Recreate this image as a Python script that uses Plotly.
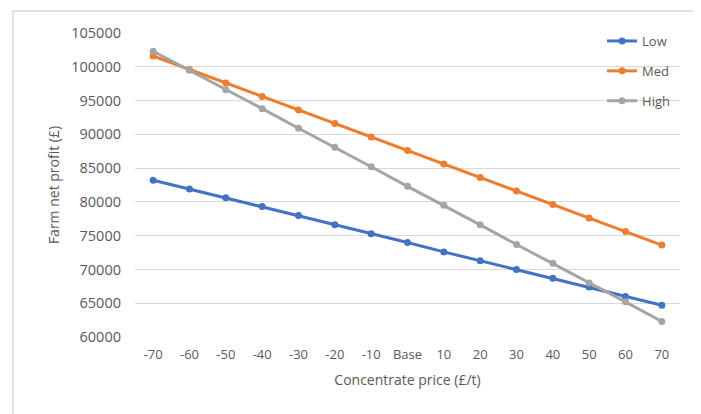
import plotly.graph_objects as go

categories = ["-70", "-60", "-50", "-40", "-30", "-20", "-10", "Base", "10", "20", "30", "40", "50", "60", "70"]
low = [83200, 81900, 80600, 79300, 78000, 76600, 75300, 74000, 72600, 71300, 70000, 68700, 67400, 66000, 64700]
med = [101600, 99600, 97600, 95600, 93600, 91600, 89600, 87600, 85600, 83600, 81600, 79600, 77600, 75600, 73600]
high = [102300, 99500, 96600, 93800, 90900, 88100, 85200, 82300, 79500, 76600, 73700, 70900, 68000, 65200, 62300]
series = [("Low", low, "#4472C4"), ("Med", med, "#ED7D31"), ("High", high, "#A5A5A5")]

font_family = "Open Sans, Liberation Sans, sans-serif"
fig = go.Figure()
for i, (name, vals, col) in enumerate(series):
    fig.add_trace(go.Scatter(
        x=categories, y=vals, name=name, mode="lines+markers",
        line=dict(color=col, width=3), marker=dict(color=col, size=7, symbol="circle"),
        legendgroup=f"g{i}",
    ))

fig.update_layout(
    width=693, height=406,
    margin=dict(l=127, r=21, t=25, b=77),
    paper_bgcolor="white", plot_bgcolor="white",
    font=dict(family=font_family, color="#595959", size=13),
    showlegend=True,
    legend=dict(x=0.857, y=1.023, xanchor="left", yanchor="top", bgcolor="rgba(0,0,0,0)",
                tracegroupgap=10, font=dict(size=13, color="#595959"), itemwidth=30),
    xaxis=dict(type="category", range=[-0.5, 14.5], showgrid=False, showline=False, zeroline=False,
               ticks="", ticklabelstandoff=8, tickfont=dict(size=13),
               title=dict(text="Concentrate price (£/t)", font=dict(size=14, color="#595959"), standoff=13)),
    yaxis=dict(range=[60000, 105000], dtick=5000, tickformat="d", showgrid=True, gridcolor="#D9D9D9",
               gridwidth=1, zeroline=False, showline=False, ticks="", ticklabelstandoff=13,
               tickfont=dict(size=14.5),
               title=dict(text="Farm net profit (£)", font=dict(size=14, color="#595959"), standoff=8)),
    shapes=[dict(type="rect", xref="paper", yref="paper", x0=-0.224, x1=1.2, y0=-0.5, y1=1.072,
                 line=dict(color="#D9D9D9", width=1.5), fillcolor="rgba(0,0,0,0)", layer="below")],
)
fig.write_html("out.html")
